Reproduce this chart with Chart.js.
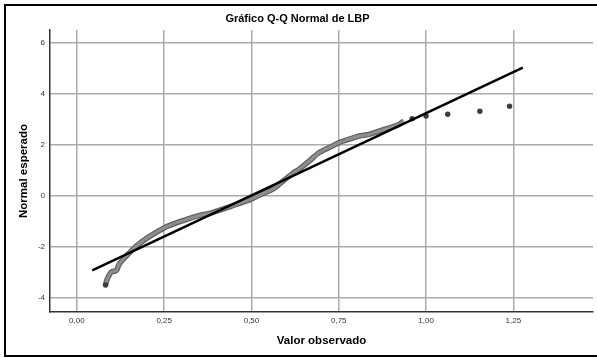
<!DOCTYPE html>
<html>
<head>
<meta charset="utf-8">
<script src="https://cdn.jsdelivr.net/npm/chart.js@4/dist/chart.umd.min.js"></script>
<style>
  html, body { margin: 0; padding: 0; background: #fff; }
  canvas { display: block; }
</style>
</head>
<body>
<canvas id="qq" width="597" height="358"></canvas>
<script>
// observed value vs. expected normal score, dense part of the sample
const bandX = [0.082, 0.087, 0.099, 0.113, 0.120, 0.132, 0.151, 0.170, 0.203, 0.251, 0.300, 0.356, 0.380,
               0.437, 0.499, 0.532, 0.560, 0.579, 0.617, 0.636, 0.665, 0.693, 0.731, 0.751, 0.779, 0.808,
               0.836, 0.865, 0.922, 0.936];
const bandY = [-3.49, -3.25, -2.98, -2.92, -2.70, -2.49, -2.22, -1.96, -1.63, -1.24, -0.98, -0.74, -0.68,
               -0.42, -0.12, 0.10, 0.26, 0.46, 0.88, 1.05, 1.37, 1.70, 1.96, 2.10, 2.23, 2.36,
               2.42, 2.55, 2.81, 2.95];

// upper tail, single cases
const tailX = [0.082, 0.960, 1.000, 1.062, 1.154, 1.239];
const tailY = [-3.49, 3.04, 3.14, 3.21, 3.33, 3.53];

// reference normal line
const lineX = [0.044, 1.277];
const lineY = [-2.92, 5.04];

const xTicks = [0, 0.25, 0.5, 0.75, 1.0, 1.25];
const yTicks = [-4, -2, 0, 2, 4, 6];

const pairs = (xs, ys) => xs.map((x, i) => ({ x: x, y: ys[i] }));

const framePlugin = {
    id: 'frame',
    afterDraw(chart) {
        const ctx = chart.ctx;
        ctx.save();
        ctx.strokeStyle = '#000';
        ctx.lineWidth = 2;
        ctx.strokeRect(5, 5, 600, 351);
        ctx.restore();
    }
};

new Chart(document.getElementById('qq'), {
    type: 'scatter',
    data: {
        datasets: [
            {
                data: pairs(lineX, lineY),
                showLine: true,
                borderColor: '#000',
                borderWidth: 2.5,
                pointRadius: 0,
                order: 0
            },
            {
                data: pairs(tailX, tailY),
                backgroundColor: '#3c3c3c',
                borderColor: '#3c3c3c',
                borderWidth: 0,
                pointRadius: 2.7,
                order: 1
            },
            {
                data: pairs(bandX, bandY),
                showLine: true,
                tension: 0.3,
                borderColor: '#8e8e8e',
                borderWidth: 3,
                pointRadius: 0,
                order: 2
            },
            {
                data: pairs(bandX, bandY),
                showLine: true,
                tension: 0.3,
                borderColor: '#616161',
                borderWidth: 5.5,
                pointRadius: 0,
                order: 3
            }
        ]
    },
    options: {
        responsive: false,
        animation: false,
        layout: { padding: { left: 0, right: 2, top: 0, bottom: 0 } },
        plugins: {
            legend: { display: false },
            tooltip: { enabled: false },
            title: {
                display: true,
                text: 'Gráfico Q-Q Normal de LBP',
                color: '#000',
                font: { family: 'Liberation Sans', size: 11, weight: 'bold' },
                padding: { top: 12, bottom: 4.8 }
            }
        },
        scales: {
            x: {
                type: 'linear',
                min: -0.077,
                max: 1.478,
                afterBuildTicks: s => { s.ticks = xTicks.map(v => ({ value: v })); },
                afterFit: s => { s.height = 46; },
                ticks: {
                    color: '#333',
                    padding: 4,
                    font: { family: 'Liberation Sans', size: 8 },
                    callback: v => v.toFixed(2).replace('.', ',')
                },
                grid: { color: '#ababab', lineWidth: 1.5, drawTicks: false },
                border: { color: '#333', width: 1.5 },
                title: {
                    display: true,
                    text: 'Valor observado',
                    color: '#000',
                    font: { family: 'Liberation Sans', size: 11.5, weight: 'bold' },
                    padding: { top: 0, bottom: 10 }
                }
            },
            y: {
                type: 'linear',
                min: -4.55,
                max: 6.52,
                afterBuildTicks: s => { s.ticks = yTicks.map(v => ({ value: v })); },
                afterFit: s => { s.width = 50; },
                ticks: {
                    color: '#333',
                    padding: 5,
                    font: { family: 'Liberation Sans', size: 8 },
                    callback: v => String(v)
                },
                grid: { color: '#ababab', lineWidth: 1.5, drawTicks: false },
                border: { color: '#333', width: 1.5 },
                title: {
                    display: true,
                    text: 'Normal esperado',
                    color: '#000',
                    font: { family: 'Liberation Sans', size: 11.5, weight: 'bold' },
                    padding: { top: 17, bottom: 0 }
                }
            }
        }
    },
    plugins: [framePlugin]
});
</script>
</body>
</html>
